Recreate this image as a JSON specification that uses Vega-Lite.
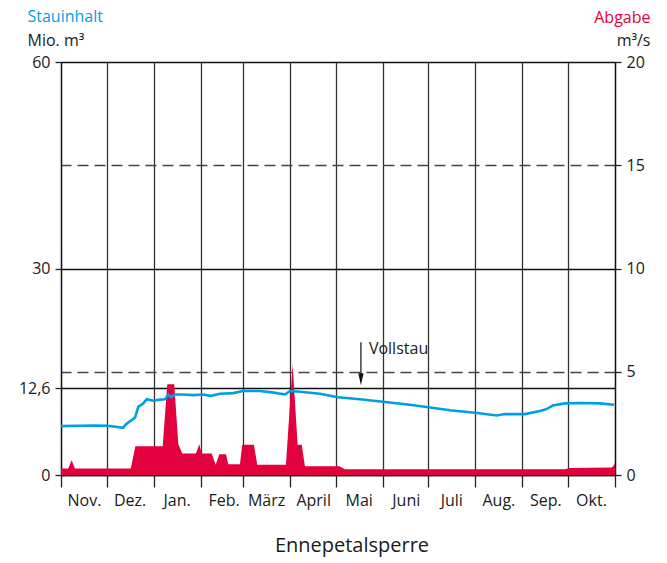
{
  "$schema": "https://vega.github.io/schema/vega-lite/v6.json",
  "width": 554,
  "height": 413,
  "autosize": "none",
  "padding": {"left": 61, "top": 62, "right": 52, "bottom": 88},
  "config": {
    "font": "Open Sans",
    "view": {"stroke": null},
    "axis": {
      "labelFont": "Open Sans",
      "titleFont": "Open Sans",
      "labelFontSize": 16,
      "titleFontSize": 16,
      "labelColor": "#1a1a1a",
      "titleColor": "#1a1a1a",
      "titleFontWeight": "normal",
      "labelFlush": false,
      "labelOverlap": false
    }
  },
  "title": {
    "text": "Ennepetalsperre",
    "orient": "bottom",
    "anchor": "middle",
    "frame": "group",
    "fontSize": 20,
    "fontWeight": "normal",
    "font": "Open Sans",
    "color": "#1a1a1a",
    "offset": 28,
    "dx": 14
  },
  "datasets": {
    "abgabe": [
      {"day": 0, "abgabe": 0.31}, {"day": 4.8, "abgabe": 0.31}, {"day": 7.0, "abgabe": 0.72}, {"day": 9.2, "abgabe": 0.31},
      {"day": 46, "abgabe": 0.31}, {"day": 49, "abgabe": 1.39}, {"day": 67, "abgabe": 1.39}, {"day": 70, "abgabe": 4.4},
      {"day": 74.6, "abgabe": 4.4}, {"day": 77.3, "abgabe": 1.49}, {"day": 79.9, "abgabe": 1.04}, {"day": 88.9, "abgabe": 1.04},
      {"day": 91.1, "abgabe": 1.49}, {"day": 92.7, "abgabe": 1.04}, {"day": 99.3, "abgabe": 1.04}, {"day": 101.9, "abgabe": 0.5},
      {"day": 104.3, "abgabe": 1.0}, {"day": 108.7, "abgabe": 1.0}, {"day": 110.2, "abgabe": 0.52}, {"day": 117.9, "abgabe": 0.52},
      {"day": 119.4, "abgabe": 1.47}, {"day": 127.1, "abgabe": 1.47}, {"day": 129.3, "abgabe": 0.5}, {"day": 148.2, "abgabe": 0.5},
      {"day": 152.6, "abgabe": 5.36}, {"day": 155.9, "abgabe": 1.47}, {"day": 158.6, "abgabe": 1.47}, {"day": 160.7, "abgabe": 0.42},
      {"day": 183.3, "abgabe": 0.42}, {"day": 187.1, "abgabe": 0.28}, {"day": 332, "abgabe": 0.28}, {"day": 335.3, "abgabe": 0.34},
      {"day": 362.9, "abgabe": 0.36}, {"day": 364.5, "abgabe": 0.5}, {"day": 365, "abgabe": 0.6}
    ],
    "stau": [
      {"day": 0, "value": 7.1}, {"day": 12, "value": 7.15}, {"day": 22, "value": 7.2}, {"day": 30, "value": 7.15},
      {"day": 36, "value": 7.0}, {"day": 40.8, "value": 6.85}, {"day": 43, "value": 7.4}, {"day": 45.5, "value": 7.8},
      {"day": 48.8, "value": 8.35}, {"day": 50.9, "value": 9.9}, {"day": 54.2, "value": 10.4}, {"day": 56.5, "value": 11.0},
      {"day": 60.8, "value": 10.8}, {"day": 65, "value": 10.95}, {"day": 68.5, "value": 11.0}, {"day": 70.7, "value": 11.7},
      {"day": 72.5, "value": 11.3}, {"day": 75, "value": 11.7}, {"day": 80.4, "value": 11.7}, {"day": 87, "value": 11.6},
      {"day": 93.5, "value": 11.7}, {"day": 98.8, "value": 11.5}, {"day": 104.7, "value": 11.8}, {"day": 113.3, "value": 11.9},
      {"day": 119.9, "value": 12.2}, {"day": 131.1, "value": 12.2}, {"day": 139, "value": 12.0}, {"day": 147.6, "value": 11.7},
      {"day": 150.9, "value": 12.2}, {"day": 157.5, "value": 12.1}, {"day": 170.6, "value": 11.8}, {"day": 182.5, "value": 11.3},
      {"day": 197, "value": 11.0}, {"day": 213.5, "value": 10.6}, {"day": 229.9, "value": 10.2}, {"day": 243.1, "value": 9.8},
      {"day": 256.3, "value": 9.4}, {"day": 274.1, "value": 9.0}, {"day": 287.2, "value": 8.65}, {"day": 292.5, "value": 8.85},
      {"day": 305.7, "value": 8.85}, {"day": 315.6, "value": 9.3}, {"day": 320.2, "value": 9.6}, {"day": 324.1, "value": 10.1},
      {"day": 332, "value": 10.4}, {"day": 341.9, "value": 10.45}, {"day": 355.1, "value": 10.4}, {"day": 364.3, "value": 10.2}
    ],
    "notes": [
      {"day": 197.6, "top": 19.3, "tip": 13.9, "label": "Vollstau"}
    ]
  },
  "layer": [
    {
      "data": {"name": "abgabe"},
      "mark": {"type": "area", "color": "#e2003d", "interpolate": "linear", "opacity": 1},
      "encoding": {
        "x": {
          "field": "day", "type": "quantitative",
          "scale": {"domain": [0, 365], "nice": false, "zero": false},
          "axis": {
            "orient": "bottom",
            "values": [0, 30, 61, 92, 120, 151, 181, 212, 242, 273, 304, 334, 365],
            "labelExpr": "['Nov.','Dez.','Jan.','Feb.','März','April','Mai','Juni','Juli','Aug.','Sep.','Okt.',''][indexof([0,30,61,92,120,151,181,212,242,273,304,334,365], datum.value)]",
            "labelOffset": 23,
            "labelPadding": 5,
            "tickSize": 12, "tickColor": "#222", "tickWidth": 1.3,
            "domain": true, "domainColor": "#111", "domainWidth": 1.3,
            "grid": true, "gridColor": "#333", "gridWidth": 1.3, "gridOpacity": 1,
            "title": "Abgabe", "titleColor": "#e2003d", "titleX": 589, "titleY": -453,
            "titleAlign": "right", "titleBaseline": "alphabetic", "titleAngle": 0
          }
        },
        "y": {
          "field": "abgabe", "type": "quantitative",
          "scale": {"domain": [0, 20], "nice": false},
          "axis": {
            "orient": "right",
            "values": [0, 5, 10, 15, 20],
            "tickSize": 6, "tickColor": "#222", "tickWidth": 1.3, "labelPadding": 5,
            "domain": true, "domainColor": "#111", "domainWidth": 1.3,
            "grid": true, "gridDash": [11, 6], "gridColor": "#444", "gridWidth": 1.4,
            "gridOpacity": {"condition": {"test": "datum.value == 5 || datum.value == 15", "value": 1}, "value": 0},
            "title": "m³/s", "titleAngle": 0, "titleX": 35, "titleY": -17,
            "titleAlign": "right", "titleBaseline": "alphabetic"
          }
        }
      }
    },
    {
      "layer": [
        {
          "data": {"name": "stau"},
          "mark": {"type": "line", "color": "#009fe3", "strokeWidth": 2.6, "interpolate": "linear"},
          "encoding": {
            "x": {
              "field": "day", "type": "quantitative",
              "scale": {"domain": [0, 365], "nice": false, "zero": false},
              "axis": {
                "orient": "top", "labels": false, "ticks": false, "domain": false, "grid": false,
                "title": "Stauinhalt", "titleColor": "#009fe3", "titleX": -34, "titleY": -40.5,
                "titleAlign": "left", "titleBaseline": "alphabetic", "titleAngle": 0
              }
            },
            "y": {
              "field": "value", "type": "quantitative",
              "scale": {"domain": [0, 60], "nice": false},
              "axis": {
                "orient": "left",
                "values": [0, 12.6, 30, 60],
                "format": ".1~f",
                "labelExpr": "replace(datum.label, '.', ',')",
                "tickSize": 6, "tickColor": "#222", "tickWidth": 1.3, "labelPadding": 5,
                "domain": true, "domainColor": "#111", "domainWidth": 1.3,
                "grid": true, "gridColor": "#111", "gridWidth": 1.3, "gridOpacity": 1,
                "title": "Mio. m³", "titleAngle": 0, "titleX": -34, "titleY": -17,
                "titleAlign": "left", "titleBaseline": "alphabetic"
              }
            }
          }
        },
        {
          "data": {"name": "notes"},
          "mark": {"type": "rule", "color": "#111", "strokeWidth": 1.2},
          "encoding": {
            "x": {"field": "day", "type": "quantitative"},
            "y": {"field": "top", "type": "quantitative"},
            "y2": {"field": "tip"}
          }
        },
        {
          "data": {"name": "notes"},
          "mark": {"type": "point", "shape": "M-0.44,-1L0.44,-1L0,1Z", "filled": true, "color": "#111", "opacity": 1, "size": 144},
          "encoding": {
            "x": {"field": "day", "type": "quantitative"},
            "y": {"field": "tip", "type": "quantitative"}
          }
        },
        {
          "data": {"name": "notes"},
          "mark": {"type": "text", "align": "left", "baseline": "middle", "dx": 8, "dy": 7, "fontSize": 16, "color": "#1a1a1a", "font": "Open Sans"},
          "encoding": {
            "x": {"field": "day", "type": "quantitative"},
            "y": {"field": "top", "type": "quantitative"},
            "text": {"field": "label"}
          }
        }
      ]
    }
  ],
  "resolve": {"scale": {"y": "independent"}, "axis": {"x": "independent", "y": "independent"}}
}
